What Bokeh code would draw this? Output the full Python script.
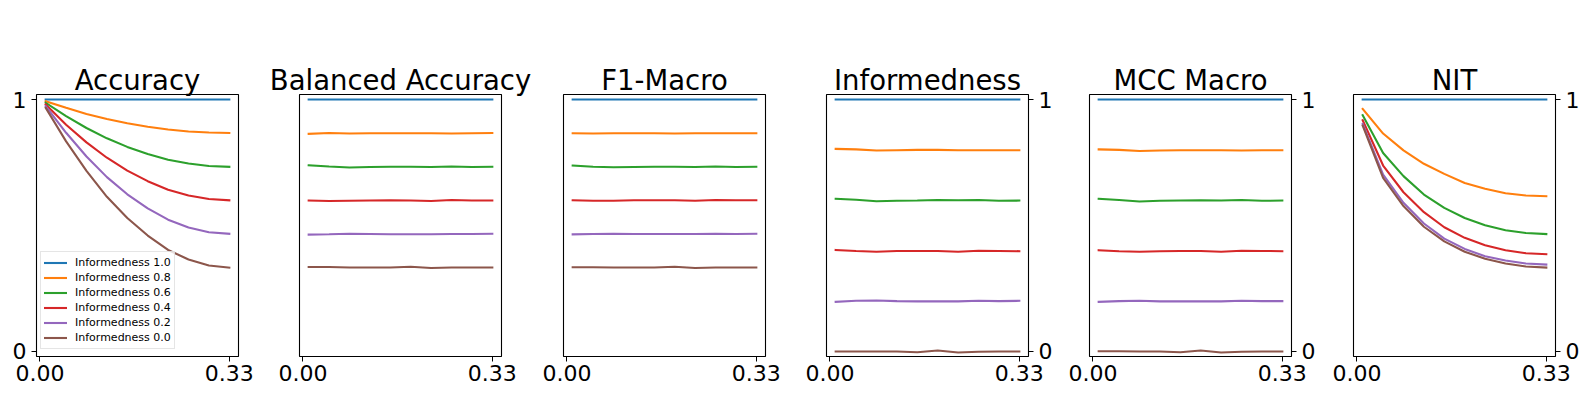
from bokeh.plotting import figure
from bokeh.layouts import row
from bokeh.models import FixedTicker, Legend, LegendItem, Range1d
from bokeh.embed import file_html
from bokeh.resources import INLINE

# ---- data ----
x_vals = [0.01, 0.0456, 0.0811, 0.1167, 0.1522, 0.1878, 0.2233, 0.2589, 0.2944, 0.33]
series_labels = ["Informedness 1.0", "Informedness 0.8", "Informedness 0.6",
                 "Informedness 0.4", "Informedness 0.2", "Informedness 0.0"]
colors = ["#1f77b4", "#ff7f0e", "#2ca02c", "#d62728", "#9467bd", "#8c564b"]
titles = ["Accuracy", "Balanced Accuracy", "F1-Macro", "Informedness", "MCC Macro", "NIT"]
x_ticks = [0.0, 0.33]
x_tick_labels = ["0.00", "0.33"]
y_ticks = [0, 1]
y_tick_labels = ["0", "1"]

ones = [1.0, 1.0, 1.0, 1.0, 1.0, 1.0, 1.0, 1.0, 1.0, 1.0]

accuracy = [
    ones,
    [0.993, 0.967, 0.943, 0.923, 0.906, 0.892, 0.881, 0.873, 0.869, 0.867],
    [0.987, 0.934, 0.887, 0.846, 0.812, 0.784, 0.761, 0.746, 0.736, 0.733],
    [0.980, 0.900, 0.830, 0.769, 0.718, 0.676, 0.642, 0.619, 0.605, 0.600],
    [0.974, 0.868, 0.774, 0.692, 0.624, 0.568, 0.523, 0.492, 0.473, 0.467],
    [0.967, 0.834, 0.717, 0.614, 0.530, 0.460, 0.403, 0.365, 0.341, 0.333],
]
balanced_accuracy = [
    ones,
    [0.864, 0.867, 0.865, 0.866, 0.866, 0.866, 0.866, 0.865, 0.866, 0.867],
    [0.739, 0.734, 0.730, 0.732, 0.733, 0.733, 0.732, 0.734, 0.732, 0.733],
    [0.599, 0.597, 0.598, 0.599, 0.600, 0.599, 0.597, 0.601, 0.599, 0.599],
    [0.464, 0.465, 0.467, 0.466, 0.465, 0.465, 0.465, 0.466, 0.466, 0.467],
    [0.335, 0.335, 0.333, 0.333, 0.333, 0.336, 0.331, 0.333, 0.333, 0.333],
]
f1_macro = [
    ones,
    [0.866, 0.865, 0.866, 0.866, 0.866, 0.865, 0.866, 0.866, 0.866, 0.866],
    [0.738, 0.733, 0.731, 0.732, 0.733, 0.733, 0.732, 0.734, 0.732, 0.733],
    [0.600, 0.598, 0.598, 0.600, 0.600, 0.600, 0.598, 0.601, 0.600, 0.600],
    [0.465, 0.466, 0.467, 0.466, 0.466, 0.466, 0.466, 0.467, 0.466, 0.467],
    [0.334, 0.334, 0.333, 0.333, 0.333, 0.336, 0.331, 0.333, 0.333, 0.333],
]
informedness = [
    ones,
    [0.804, 0.802, 0.798, 0.799, 0.800, 0.800, 0.799, 0.799, 0.799, 0.799],
    [0.606, 0.602, 0.596, 0.598, 0.599, 0.601, 0.600, 0.601, 0.598, 0.599],
    [0.403, 0.399, 0.396, 0.399, 0.399, 0.399, 0.396, 0.400, 0.399, 0.398],
    [0.197, 0.201, 0.202, 0.200, 0.199, 0.199, 0.199, 0.201, 0.200, 0.201],
    [0.000, 0.000, 0.000, 0.000, -0.003, 0.004, -0.004, -0.001, 0.000, 0.000],
]
mcc_macro = [
    ones,
    [0.802, 0.800, 0.796, 0.798, 0.799, 0.799, 0.799, 0.798, 0.799, 0.799],
    [0.606, 0.601, 0.595, 0.598, 0.599, 0.600, 0.599, 0.601, 0.598, 0.599],
    [0.402, 0.398, 0.396, 0.398, 0.399, 0.399, 0.396, 0.400, 0.399, 0.398],
    [0.197, 0.200, 0.201, 0.199, 0.199, 0.199, 0.199, 0.201, 0.200, 0.200],
    [0.001, 0.001, 0.000, 0.000, -0.003, 0.004, -0.004, -0.001, 0.000, 0.000],
]
nit = [
    ones,
    [0.963, 0.865, 0.798, 0.745, 0.705, 0.669, 0.646, 0.628, 0.619, 0.616],
    [0.938, 0.788, 0.696, 0.623, 0.570, 0.530, 0.501, 0.481, 0.470, 0.466],
    [0.918, 0.738, 0.632, 0.553, 0.493, 0.451, 0.422, 0.402, 0.390, 0.386],
    [0.903, 0.702, 0.590, 0.508, 0.448, 0.407, 0.378, 0.361, 0.349, 0.345],
    [0.897, 0.689, 0.577, 0.495, 0.437, 0.396, 0.368, 0.349, 0.337, 0.333],
]
all_data = [accuracy, balanced_accuracy, f1_macro, informedness, mcc_macro, nit]

# ---- layout ----
FONT = "DejaVu Sans"
# (min_border_left, min_border_right, y axis location)
panel_specs = [
    (36, 27, "left"),
    (34, 32, None),
    (30, 29, None),
    (32, 30, "right"),
    (31, 30, "right"),
    (32, 30, "right"),
]
FRAME_W = 202
TOP = 94
FRAME_H = 262
BOTTOM = 38

figs = []
for i, (title, data) in enumerate(zip(titles, all_data)):
    bl, br, yloc = panel_specs[i]
    p = figure(width=bl + FRAME_W + br, height=TOP + FRAME_H + BOTTOM,
               x_range=Range1d(-0.006, 0.346), y_range=Range1d(-0.02, 1.02),
               y_axis_location=yloc, output_backend="svg", toolbar_location=None,
               min_border_left=bl, min_border_right=br,
               min_border_top=TOP, min_border_bottom=BOTTOM,
               background_fill_color="white", border_fill_color="white")
    p.title.text = title
    p.title.text_font = FONT
    p.title.text_font_size = "27.5px"
    p.title.text_font_style = "normal"
    p.title.align = "center"
    p.title.text_color = "black"
    p.title.standoff = -2
    p.grid.visible = False
    p.outline_line_color = "black"
    p.outline_line_width = 1.1
    p.outline_line_alpha = 1.0

    axes = list(p.xaxis) + (list(p.yaxis) if yloc else [])
    for ax in axes:
        ax.major_label_text_font = FONT
        ax.major_label_text_font_size = "22px"
        ax.major_label_text_color = "black"
        ax.major_tick_in = 0
        ax.major_tick_out = 5
        ax.minor_tick_in = 0
        ax.minor_tick_out = 0
        ax.major_tick_line_color = "black"
        ax.axis_line_color = None
        ax.major_label_standoff = 4
    p.xaxis.ticker = FixedTicker(ticks=x_ticks)
    p.xaxis.major_label_overrides = dict(zip(x_ticks, x_tick_labels))
    p.xaxis.major_label_standoff = 3
    if yloc:
        p.yaxis.ticker = FixedTicker(ticks=y_ticks)
        p.yaxis.major_label_overrides = dict(zip(y_ticks, y_tick_labels))
        p.yaxis.major_label_standoff = 5

    renderers = []
    for ys, c in zip(data, colors):
        r = p.line(x_vals, ys, line_color=c, line_width=2.1, line_cap="square")
        renderers.append(r)

    if i == 0:
        items = [LegendItem(label=lab, renderers=[r]) for lab, r in zip(series_labels, renderers)]
        leg = Legend(items=items, location=(4, 7), margin=0, padding=3, spacing=0,
                     glyph_width=23, glyph_height=15, label_height=15, label_standoff=8,
                     label_text_font=FONT, label_text_font_size="11px",
                     label_text_color="black",
                     border_line_color="#cccccc", border_line_width=1,
                     background_fill_color="white", background_fill_alpha=0.8)
        p.add_layout(leg, "center")
    figs.append(p)

layout = row(*figs)
open("out.html", "w").write(file_html(layout, INLINE))
